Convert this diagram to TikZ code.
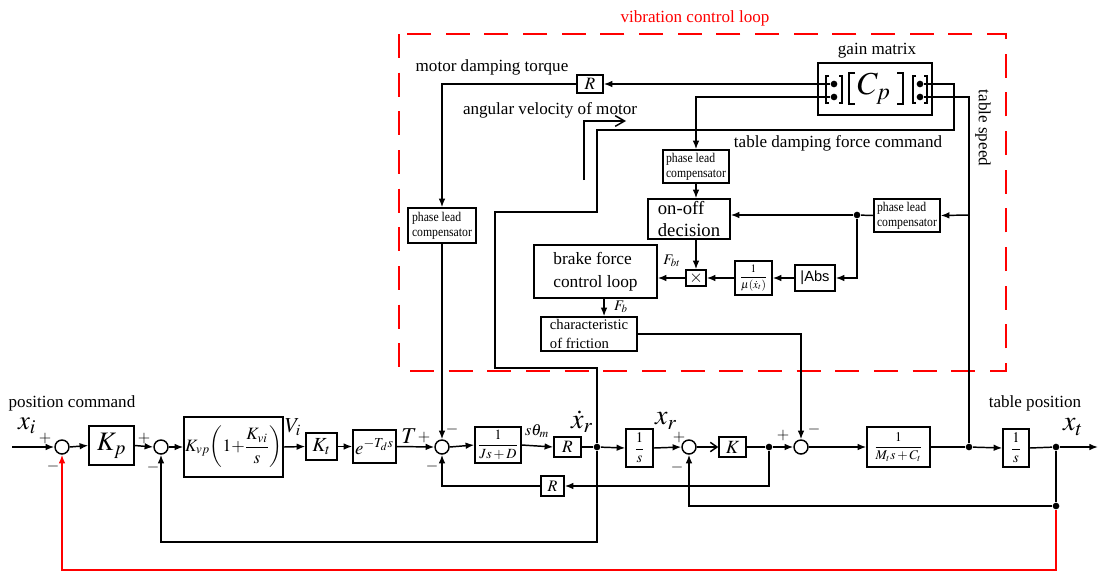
\documentclass[tikz,border=0pt]{standalone}
\usepackage{amsmath}
\usepackage{mathptmx}
\usepackage[no-math]{fontspec}
\setmainfont{Liberation Serif}
\newfontfamily\absfont{Liberation Sans}
\newfontfamily\compfont[FakeStretch=0.88]{Liberation Serif}
\usetikzlibrary{arrows.meta,calc}
\newcommand{\fs}[1]{\fontsize{#1}{#1}\selectfont}
\begin{document}
\begin{tikzpicture}[x=0.75pt,y=-0.75pt,line width=1.1pt,
  arr/.style={-{Latex[length=6.5pt,width=5pt]}},
  barb/.style={-{Straight Barb[length=5pt,width=7pt]}},
  blk/.style 2 args={draw,inner sep=0pt,minimum width=#1*0.75pt,minimum height=#2*0.75pt},
  sum/.style={circle,draw,minimum size=10.5pt,inner sep=0pt},
  dot/.style={circle,fill,inner sep=0pt,minimum size=5pt},
  lbl/.style={font=\fontsize{12.8}{14}\selectfont},
  sgn/.style={font=\fs{12},inner sep=1pt},
  comp/.style={font=\compfont\fontsize{10}{11}\selectfont,align=left},
]
\useasboundingbox (0,0) rectangle (1098,572);

% ---------- red dashed frame ----------
\draw[red,line width=1.5pt,dash pattern=on 18pt off 11pt] (399,34) rectangle (1006,371);
\node[lbl,text=red] (vcl) at (695,18) {vibration control loop};

% ---------- main forward path ----------
\coordinate (xin) at (12,447);
\node[sum] (s1) at (62,447) {};
\node[blk={45}{39}] (kp) at (111.5,445.5) {\fs{20}$K_p$};
\node[sum] (s2) at (161,447) {};
\node[blk={99}{60}] (kvp) at (233.5,447) {\fs{13}$K_{vp}\!\left(1{+}\dfrac{K_{vi}}{s}\right)$};
\node[blk={31}{27}] (kt) at (321.5,446.5) {\fs{15}$K_t$};
\node[blk={43}{33}] (ed) at (374.5,446.5) {\fs{14}$e^{-T_d s}$};
\node[sum] (s3) at (442,447) {};
\node[blk={46}{36}] (js) at (498,445) {\fs{10.5}$\dfrac{1}{Js+D}$};
\node[blk={27}{20}] (r1) at (567.5,447) {\fs{13}$R$};
\node[dot] (d1) at (597,447) {};
\node[blk={27}{38}] (i1) at (639.5,448) {\fs{11}$\dfrac{1}{s}$};
\node[sum] (s4) at (689,447) {};
\node[blk={27}{20}] (kk) at (732.5,447) {\fs{14}$K$};
\node[dot] (d2) at (769,447) {};
\node[sum] (s5) at (801,447) {};
\node[blk={63}{40}] (mt) at (898.5,447) {\fs{10}$\dfrac{1}{M_t s+C_t}$};
\node[dot] (d3) at (969,447) {};
\node[blk={26}{38}] (i2) at (1016,448) {\fs{11}$\dfrac{1}{s}$};
\node[dot] (d4) at (1056,447) {};
\coordinate (xout) at (1098,447);

\draw[arr] (xin) -- (s1.west);
\draw[arr] (s1.east) -- (kp.west);
\draw[arr] (kp.east) -- (s2.west);
\draw[arr] (s2.east) -- (kvp.west);
\draw[arr] (kvp.east) -- (kt.west);
\draw[arr] (kt.east) -- (ed.west);
\draw[arr] (ed.east) -- (s3.west);
\draw[arr] (s3.east) -- (js.west);
\draw[arr] (js.east) -- (r1.west);
\draw (r1.east) -- (d1);
\draw[arr] (d1) -- (i1.west);
\draw[arr] (i1.east) -- (s4.west);
\draw[barb] (s4.east) -- (kk.west);
\draw (kk.east) -- (d2);
\draw[arr] (d2) -- (s5.west);
\draw[arr] (s5.east) -- (mt.west);
\draw (mt.east) -- (d3);
\draw[arr] (d3) -- (i2.west);
\draw (i2.east) -- (d4);
\draw[arr] (d4) -- (xout);

% ---------- feedback paths ----------
\node[blk={23}{20}] (r2) at (552.5,486) {\fs{12}$R$};
\draw[arr] (d2) |- (r2.east);
\draw[arr] (r2.west) -| (s3.south);
\coordinate (c1) at (597,542);
\draw[arr] (d1) -- (c1) -| (s2.south);
\node[dot] (d5) at (1056,506) {};
\draw (d4) -- (d5);
\draw[arr] (d5) -| (s4.south);
\coordinate (c2) at (1056,570);
\draw[arr,red] (d5) -- (c2) -| (s1.south);

% ---------- labels main path ----------
\node[lbl] (poscmd) at (72,403) {position command};
\node (xi) at (27,426) {\fs{20}$x_i$};
\node[sgn] at (45,438) {$+$};
\node[sgn] at (53,466) {$-$};
\node[sgn] at (144,438) {$+$};
\node[sgn] at (153,467) {$-$};
\node (vi) at (293,427) {\fs{16}$V_i$};
\node (tl) at (409,436) {\fs{17}$T$};
\node[sgn] at (424,437) {$+$};
\node[sgn] at (452,429) {$-$};
\node[sgn] at (432,466) {$-$};
\node[inner sep=0pt] (sth) at (537,431) {\fs{12}$s\theta_m$};
\node[inner sep=0pt] (xrd) at (582,422) {\fs{21}$\dot{x}_r$};
\node (xr) at (666,421) {\fs{21}$x_r$};
\node[sgn] at (679,437) {$+$};
\node[sgn] at (677,467) {$-$};
\node[sgn] at (783,435) {$+$};
\node[sgn] at (814,429) {$-$};
\node (xt) at (1073,427) {\fs{21}$x_t$};
\node[lbl] (tpos) at (1035,403) {table position};

% ---------- vibration control loop ----------
\node[blk={114}{52}] (gain) at (875,89) {};
\node[lbl] (gainl) at (877,51) {gain matrix};
\begin{scope}[line width=1.5pt]
\draw (829,76) -- (826,76) -- (826,103) -- (829,103);
\draw (839,76) -- (842,76) -- (842,103) -- (839,103);
\draw (855,73) -- (849,73) -- (849,104) -- (855,104);
\draw (897,73) -- (903,73) -- (903,104) -- (897,104);
\draw (916,76) -- (913,76) -- (913,103) -- (916,103);
\draw (924,76) -- (927,76) -- (927,103) -- (924,103);
\end{scope}
\node (cp) at (874,89) {\fs{24}$C_p$};
\node[dot] (gl1) at (834,84) {};
\node[dot] (gl2) at (834,97) {};
\node[dot] (gr1) at (920,84) {};
\node[dot] (gr2) at (920,97) {};

\node[blk={26}{18}] (r3) at (590,84) {\fs{13}$R$};
\node[blk={68}{35},comp] (comp1) at (442,225.5) {phase lead\\compensator};
\node[blk={66}{33},comp] (comp2) at (696,166.5) {phase lead\\compensator};
\node[blk={66}{33},comp] (comp3) at (907,215.5) {phase lead\\compensator};
\node[blk={82}{40},font=\fontsize{14}{16}\selectfont,align=left] (onoff) at (689,219) {on-off\\decision};
\node[blk={123}{53},font=\fontsize{13}{17}\selectfont,align=left] (brake) at (595.5,271.5) {brake force\\control loop};
\node[blk={96}{34},font=\fontsize{11}{14}\selectfont,align=left] (fric) at (589,334) {characteristic\\of friction};
\node[blk={20}{16}] (mul) at (696,278) {\fs{13}$\times$};
\node[blk={37}{34}] (mu) at (753.5,278) {\fs{8.5}$\dfrac{1}{\mu(\dot{x}_t)}$};
\node[blk={40}{26}] (abs) at (815,278) {\absfont\fs{11}|Abs};
\node[dot] (d6) at (857,215) {};
\coordinate (b1) at (969,215);

\draw[arr] (gl1) -- (r3.east);
\draw[arr] (r3.west) -| (comp1.north);
\draw[arr] (comp1.south) -- (s3.north);
\draw[arr] (gl2) -| (comp2.north);
\draw[arr] (comp2.south) -- (comp2.south |- onoff.north);
\draw[arr] (mul.north |- onoff.south) -- (mul.north);
\draw[arr] (mul.west) -- (mul.west -| brake.east);
\draw[arr] ([xshift=6.4pt]brake.south) -- ([xshift=6.4pt]brake.south |- fric.north);
\draw[arr] (fric.east) -| (s5.north);
\draw (gr2) -| (d3);
\draw[arr] (b1) -- (comp3.east);
\draw (comp3.west) -- (d6);
\draw[arr] (d6) -- (d6 -| onoff.east);
\draw[arr] (d6) |- (abs.east);
\draw[arr] (abs.west) -- (mu.east);
\draw[arr] (mu.west) -- (mul.east);
\draw (d1) -- (597,368) -- (495,368) -- (495,212) -- (597,212) -- (597,130) -- (954,130) -- (954,84) -- (gr1);
\draw[-{Straight Barb[length=7pt,width=8pt]}] (584,180) -- (584,121) -- (626,121);

\node[font=\fs{11}] (fbt) at (672,261) {$F_{bt}$};
\node[font=\fs{11}] (fb) at (621,307) {$F_b$};
\node[lbl] (mdt) at (492,67) {motor damping torque};
\node[lbl] (avm) at (550,110) {angular velocity of motor};
\node[lbl] (tdf) at (838,143) {table damping force command};
\node[lbl,rotate=-90] (tsp) at (983,128) {table speed};
\end{tikzpicture}
\end{document}
